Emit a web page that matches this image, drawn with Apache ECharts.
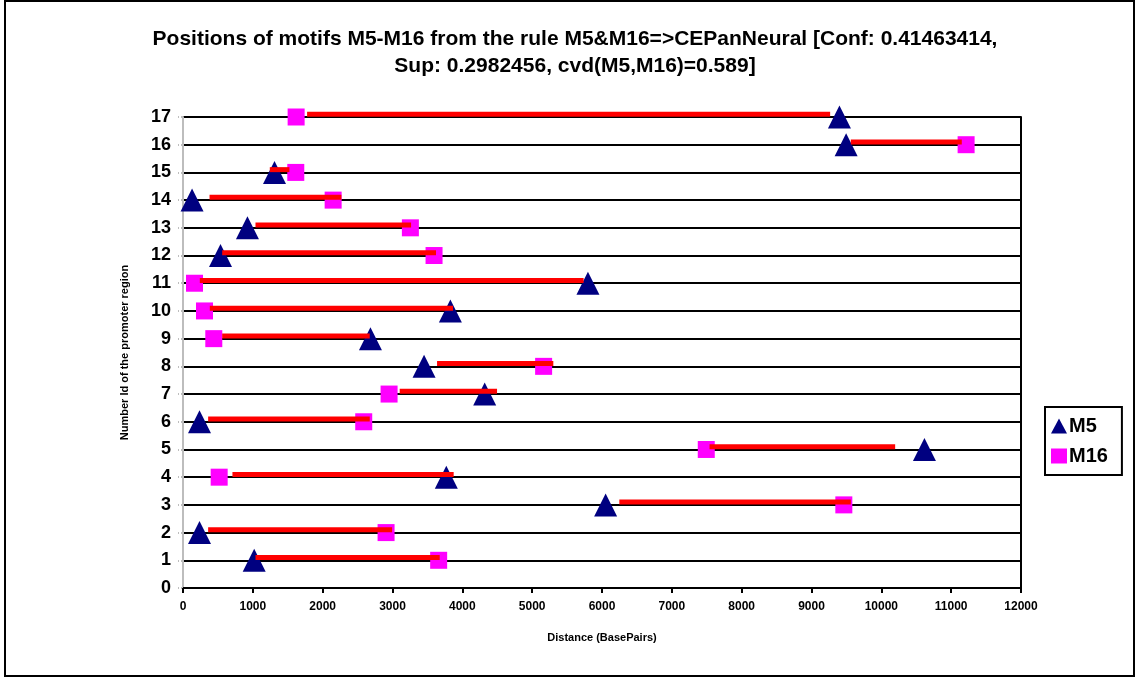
<!DOCTYPE html>
<html>
<head>
<meta charset="utf-8">
<script src="https://cdn.jsdelivr.net/npm/echarts@6/dist/echarts.min.js"></script>
<style>
  html, body { margin: 0; padding: 0; background: #fff; }
  #chart { width: 1136px; height: 677px; }
</style>
</head>
<body>
<div id="chart"></div>
<script>
// promoter region ids (y axis)
const regionIds = [1, 2, 3, 4, 5, 6, 7, 8, 9, 10, 11, 12, 13, 14, 15, 16, 17]
// motif positions in base pairs, one per region
const m5Pos = [1019, 236, 6052, 3771, 10617, 236, 4320, 3452, 2684, 3829, 5799, 537, 923, 130, 1310, 9496, 9400]
const m16Pos = [3661, 2908, 9463, 518, 7493, 2588, 2951, 5164, 441, 308, 165, 3595, 3256, 2150, 1615, 11214, 1620]
// red span between the two motifs
const spanStart = [1038, 360, 6248, 708, 7540, 360, 3103, 3638, 561, 384, 241, 561, 1038, 380, 1243, 9563, 1777]
const spanEnd = [3676, 2994, 9563, 3876, 10198, 2674, 4497, 5303, 2674, 3867, 5737, 3623, 3266, 2268, 1524, 11152, 9267]
const xTicks = [0, 1000, 2000, 3000, 4000, 5000, 6000, 7000, 8000, 9000, 10000, 11000, 12000]

const font = 'Liberation Sans, Arial, sans-serif'
const chart = echarts.init(document.getElementById('chart'))

const m5Data = regionIds.map((id, i) => [m5Pos[i], id])
const m16Data = regionIds.map((id, i) => [m16Pos[i], id])
const spanData = regionIds.map((id, i) => [spanStart[i], spanEnd[i], id])

const option = {
    animation: false,
    backgroundColor: '#fff',
    title: {
        text: 'Positions of motifs M5-M16 from the rule M5&M16=>CEPanNeural [Conf: 0.41463414,\nSup: 0.2982456, cvd(M5,M16)=0.589]',
        left: 570,
        textAlign: 'center',
        top: 21,
        textStyle: {
            fontFamily: font,
            fontWeight: 'bold',
            fontSize: 21,
            lineHeight: 27,
            color: '#000'
        }
    },
    legend: {
        orient: 'vertical',
        left: 1045,
        top: 407,
        padding: [9, 14, 9, 6],
        itemGap: 10,
        itemWidth: 16,
        itemHeight: 15,
        borderColor: '#000',
        borderWidth: 2,
        data: [
            {name: 'M5', icon: 'triangle'},
            {name: 'M16', icon: 'rect'}
        ],
        textStyle: {
            fontFamily: font,
            fontWeight: 'bold',
            fontSize: 20,
            color: '#000',
            padding: [0, 0, 0, -3]
        }
    },
    grid: {
        left: 183,
        right: 115,
        top: 117,
        bottom: 89
    },
    xAxis: {
        type: 'value',
        min: 0,
        max: 12000,
        interval: 1000,
        name: 'Distance (BasePairs)',
        nameLocation: 'middle',
        nameGap: 44,
        nameTextStyle: {
            fontFamily: font,
            fontWeight: 'bold',
            fontSize: 11,
            color: '#000'
        },
        axisLine: {lineStyle: {color: '#000', width: 2}},
        axisTick: {show: true, length: 5, lineStyle: {color: '#000', width: 2}},
        axisLabel: {
            fontFamily: font,
            fontWeight: 'bold',
            fontSize: 12,
            color: '#000',
            margin: 13,
            formatter: v => xTicks.indexOf(v) >= 0 ? String(v) : ''
        },
        splitLine: {show: false}
    },
    yAxis: [{
        type: 'value',
        min: 0,
        max: 17,
        interval: 1,
        name: 'Number Id of the promoter region',
        nameLocation: 'middle',
        nameGap: 53,
        nameTextStyle: {
            fontFamily: font,
            fontWeight: 'bold',
            fontSize: 11,
            color: '#000'
        },
        axisLine: {show: true, lineStyle: {color: '#bdbdbd', width: 2}},
        axisTick: {show: true, length: 5, lineStyle: {color: '#bdbdbd', width: 2, type: 'dotted'}},
        axisLabel: {
            fontFamily: font,
            fontWeight: 'bold',
            fontSize: 18,
            color: '#000',
            margin: 12
        },
        splitLine: {show: true, lineStyle: {color: '#000', width: 2}}
    }, {
        type: 'value',
        position: 'right',
        min: 0,
        max: 17,
        interval: 1,
        axisLine: {show: true, lineStyle: {color: '#000', width: 2}},
        axisTick: {show: false},
        axisLabel: {show: false},
        splitLine: {show: false}
    }],
    series: [{
        name: 'M5',
        type: 'scatter',
        symbol: 'triangle',
        symbolSize: [23, 23],
        itemStyle: {color: '#000080', opacity: 1},
        data: m5Data,
        z: 3
    }, {
        name: 'M16',
        type: 'scatter',
        symbol: 'rect',
        symbolSize: [17, 17],
        itemStyle: {color: '#FF00FF', opacity: 1},
        data: m16Data,
        z: 3
    }, {
        name: 'span',
        type: 'custom',
        z: 4,
        renderItem(params, api) {
            const y = api.value(2) + 0.1
            const a = api.coord([api.value(0), y])
            const b = api.coord([api.value(1), y])
            return {
                type: 'rect',
                shape: {x: a[0], y: a[1] - 2.5, width: b[0] - a[0], height: 5},
                style: {fill: '#FF0000'}
            }
        },
        encode: {x: [0, 1], y: 2},
        data: spanData
    }],
    graphic: [{
        type: 'rect',
        shape: {x: 5, y: 1, width: 1129, height: 675},
        style: {fill: 'none', stroke: '#000', lineWidth: 2},
        silent: true
    }]
}
chart.setOption(option)
</script>
</body>
</html>
